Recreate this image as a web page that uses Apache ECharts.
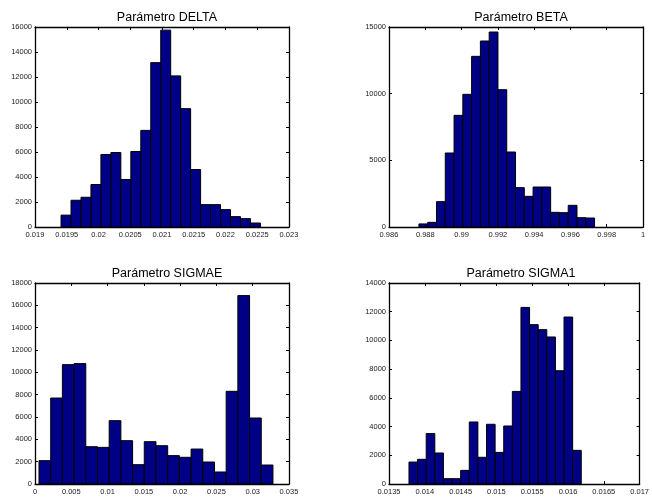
<!DOCTYPE html>
<html>
<head>
<meta charset="utf-8">
<script src="https://cdn.jsdelivr.net/npm/echarts@6/dist/echarts.min.js"></script>
<style>html,body{margin:0;padding:0;background:#fff}#c{width:652px;height:500px}</style>
</head>
<body>
<div id="c"></div>
<script>
// Titles
const titles = ['Parámetro DELTA', 'Parámetro BETA', 'Parámetro SIGMAE', 'Parámetro SIGMA1'];

// Histogram bin layout (first bin left edge and bin width)
const deltaBinStart = 0.01941, deltaBinWidth = 0.000157;
const betaBinStart = 0.98765, betaBinWidth = 0.000484;
const sigmaeBinStart = 0.00055, sigmaeBinWidth = 0.001612;
const sigma1BinStart = 0.013779, sigma1BinWidth = 0.0001203;

// Counts per bin
const deltaCounts = [950, 2140, 2380, 3400, 5800, 5960, 3800, 6040, 7730, 13150, 15750, 12090, 9470, 4600, 1790, 1790, 1390, 830, 670, 320];
const betaCounts = [230, 350, 1900, 5550, 8375, 9950, 12800, 13950, 14625, 10300, 5625, 2950, 2300, 3000, 3000, 1100, 1075, 1625, 700, 675];
const sigmaeCounts = [2090, 7700, 10690, 10780, 3340, 3280, 5670, 3880, 1730, 3790, 3430, 2540, 2390, 3130, 1970, 1075, 8300, 16870, 5910, 1700];
const sigma1Counts = [1530, 1720, 3510, 2160, 370, 370, 950, 4320, 1860, 4160, 2200, 4040, 6450, 12300, 11100, 10750, 10240, 7890, 11630, 2345];

// Axis ranges
const xMins = [0.019, 0.986, 0, 0.0135];
const xMaxs = [0.023, 1, 0.035, 0.017];
const xSteps = [0.0005, 0.002, 0.005, 0.0005];
const yMaxs = [16000, 15000, 18000, 14000];
const ySteps = [2000, 5000, 2000, 2000];

const binStarts = [deltaBinStart, betaBinStart, sigmaeBinStart, sigma1BinStart];
const binWidths = [deltaBinWidth, betaBinWidth, sigmaeBinWidth, sigma1BinWidth];
const counts = [deltaCounts, betaCounts, sigmaeCounts, sigma1Counts];

const grids = [
  {left: 35, top: 27, width: 254, height: 200},
  {left: 389, top: 27, width: 254, height: 200},
  {left: 35, top: 283, width: 254, height: 201},
  {left: 389, top: 283, width: 254, height: 201}
];

const FONT = '"Liberation Sans", Arial, Helvetica, sans-serif';
const lineStyle = {color: '#000', width: 1.3};
const tickStyle = {show: true, inside: true, length: 3, lineStyle: {color: '#000', width: 1}};
const lbl = {fontFamily: FONT, fontSize: 7.5, color: '#222'};
const plainNum = v => String(Math.round(v * 1e6) / 1e6);

const option = {
  animation: false,
  backgroundColor: '#fff',
  title: grids.map((g, i) => ({
    text: titles[i],
    left: g.left + g.width / 2,
    top: g.top - 21,
    textAlign: 'center',
    textStyle: {fontFamily: FONT, fontSize: 12.5, fontWeight: 'normal', color: '#000'}
  })),
  grid: grids.map(g => Object.assign({containLabel: false}, g)),
  xAxis: [],
  yAxis: [],
  series: []
};

grids.forEach((g, i) => {
  option.xAxis.push({
    type: 'value', gridIndex: i, position: 'bottom', min: xMins[i], max: xMaxs[i], interval: xSteps[i],
    axisLine: {show: true, onZero: false, lineStyle: lineStyle},
    axisTick: tickStyle, splitLine: {show: false},
    axisLabel: Object.assign({margin: 4, showMinLabel: true, showMaxLabel: true, formatter: plainNum}, lbl)
  });
  option.xAxis.push({
    type: 'value', gridIndex: i, position: 'top', min: xMins[i], max: xMaxs[i], interval: xSteps[i],
    axisLine: {show: true, onZero: false, lineStyle: lineStyle},
    axisTick: tickStyle, splitLine: {show: false}, axisLabel: {show: false}
  });
  option.yAxis.push({
    type: 'value', gridIndex: i, position: 'left', min: 0, max: yMaxs[i], interval: ySteps[i],
    axisLine: {show: true, onZero: false, lineStyle: lineStyle},
    axisTick: tickStyle, splitLine: {show: false},
    axisLabel: Object.assign({margin: 3, formatter: plainNum}, lbl)
  });
  option.yAxis.push({
    type: 'value', gridIndex: i, position: 'right', min: 0, max: yMaxs[i], interval: ySteps[i],
    axisLine: {show: true, onZero: false, lineStyle: lineStyle},
    axisTick: tickStyle, splitLine: {show: false}, axisLabel: {show: false}
  });
  const data = counts[i].map((v, k) => [binStarts[i] + k * binWidths[i], binStarts[i] + (k + 1) * binWidths[i], v]);
  option.series.push({
    type: 'custom',
    xAxisIndex: i * 2,
    yAxisIndex: i * 2,
    data: data,
    encode: {x: [0, 1], y: 2},
    renderItem: function (params, api) {
      const p0 = api.coord([api.value(0), api.value(2)]);
      const p1 = api.coord([api.value(1), 0]);
      return {
        type: 'rect',
        shape: {x: p0[0], y: p0[1], width: p1[0] - p0[0], height: p1[1] - p0[1]},
        style: {fill: '#000086', stroke: '#000', lineWidth: 1}
      };
    }
  });
});

const chart = echarts.init(document.getElementById('c'), null, {renderer: 'canvas'});
chart.setOption(option);
</script>
</body>
</html>
